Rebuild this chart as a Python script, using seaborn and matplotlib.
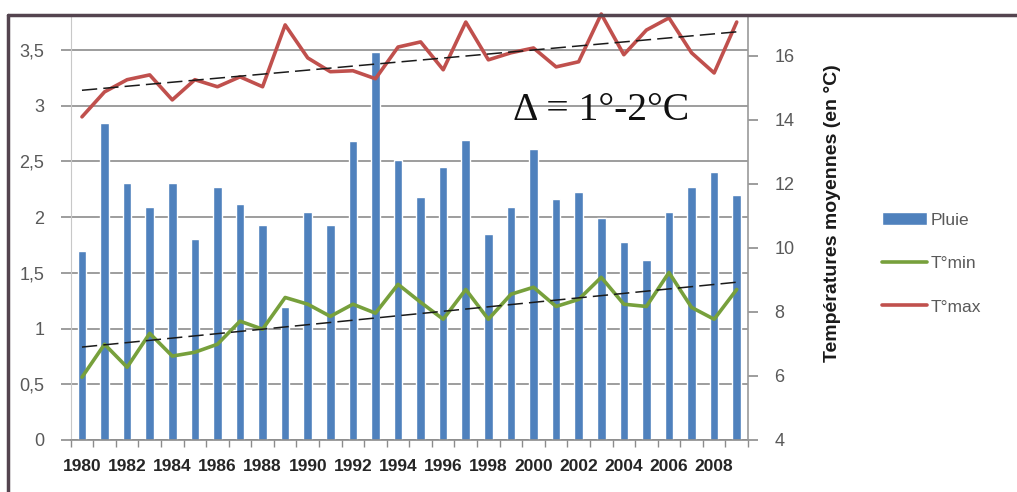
import numpy as np
import pandas as pd
import matplotlib
matplotlib.use('Agg')
import matplotlib.pyplot as plt
import seaborn as sns
from matplotlib.lines import Line2D
from matplotlib.ticker import FuncFormatter, MultipleLocator, FixedLocator

# données
years = list(range(1980, 2010))
pluie = [1.70, 2.85, 2.31, 2.09, 2.31, 1.80, 2.27, 2.12, 1.93, 1.19,
         2.05, 1.93, 2.68, 3.48, 2.51, 2.18, 2.45, 2.69, 1.85, 2.09,
         2.61, 2.16, 2.23, 1.99, 1.78, 1.62, 2.05, 2.27, 2.41, 2.20]
t_min = [5.96, 6.99, 6.27, 7.33, 6.62, 6.74, 6.99, 7.71, 7.46, 8.45,
         8.24, 7.86, 8.24, 7.96, 8.86, 8.30, 7.77, 8.70, 7.77, 8.55,
         8.77, 8.17, 8.39, 9.08, 8.24, 8.17, 9.23, 8.14, 7.77, 8.70]
t_max = [14.09, 14.87, 15.25, 15.40, 14.62, 15.25, 15.03, 15.34, 15.03, 16.96,
         15.93, 15.50, 15.53, 15.28, 16.27, 16.43, 15.56, 17.05, 15.87, 16.09,
         16.24, 15.65, 15.81, 17.30, 16.03, 16.80, 17.18, 16.09, 15.46, 17.05]
year_labels = [str(y) for y in years[::2]]

df = pd.DataFrame({'annee': years, 'pluie': pluie, 't_min': t_min, 't_max': t_max})
df['pos'] = np.arange(len(df))

sns.set_style('white')
plt.rcParams['font.family'] = ['Liberation Sans', 'DejaVu Sans']

blue = '#4F81BD'
green = '#77A03C'
red = '#C0504D'
grey_txt = '#595959'

fig = plt.figure(figsize=(10.17, 4.92), dpi=100)
ax = fig.add_axes([0.0695, 0.1057, 0.666, 0.8638])

sns.barplot(data=df, x='annee', y='pluie', color=blue, saturation=1,
            width=0.38, ax=ax, label='Pluie', zorder=2)
if ax.get_legend() is not None:
    ax.get_legend().remove()
ax.set_xlim(-0.5, len(years) - 0.5)
ax.set_ylim(0, 3.815)
ax.yaxis.set_major_locator(MultipleLocator(0.5))
ax.yaxis.set_major_formatter(FuncFormatter(lambda v, p: f'{v:g}'.replace('.', ',')))
ax.grid(axis='y', color='#8c8c8c', lw=1.2)
ax.set_axisbelow(True)
ax.set_xlabel(''); ax.set_ylabel('')

# x ticks: labels every 2 years, small marks between categories
ax.xaxis.set_major_locator(FixedLocator(df['pos'][::2].tolist()))
ax.set_xticklabels(year_labels)
ax.xaxis.set_minor_locator(FixedLocator(np.arange(-0.5, len(years), 1)))
ax.tick_params(axis='x', which='major', length=0, pad=14, labelsize=12.5,
               labelcolor='#262626')
for lab in ax.get_xticklabels():
    lab.set_fontweight('bold')
ax.tick_params(axis='x', which='minor', length=5, color='#8c8c8c', width=1,
               direction='out', bottom=True)
ax.tick_params(axis='y', length=7, color='#8c8c8c', width=1.2, direction='out',
               left=True, pad=12, labelsize=13, labelcolor=grey_txt)

for s in ['top', 'right']:
    ax.spines[s].set_visible(False)
ax.spines['left'].set_color('#c8c8c8')
ax.spines['bottom'].set_color('#8c8c8c')
ax.spines['bottom'].set_linewidth(1.2)

# températures sur l'axe de droite
ax2 = ax.twinx()
sns.lineplot(data=df, x='pos', y='t_min', color=green, lw=2.6, ax=ax2,
             label='T°min', legend=False)
sns.lineplot(data=df, x='pos', y='t_max', color=red, lw=2.6, ax=ax2,
             label='T°max', legend=False)
for col in ['t_min', 't_max']:
    sns.regplot(data=df, x='pos', y=col, scatter=False, ci=None, ax=ax2,
                line_kws=dict(color='#1a1a1a', lw=1.1, ls=(0, (10, 4))))
ax2.set_xlim(-0.5, len(years) - 0.5)
ax2.set_ylim(4, 17.27)
ax2.yaxis.set_major_locator(FixedLocator([4, 6, 8, 10, 12, 14, 16]))
ax2.set_xlabel('')
ax2.set_ylabel('Températures moyennes (en °C)', fontsize=14,
               fontweight='bold', color='#1a1a1a')
ax2.yaxis.set_label_coords(1.112, 0.535)
ax2.tick_params(axis='y', length=7, color='#8c8c8c', width=1.2, direction='out',
                right=True, pad=12, labelsize=13, labelcolor=grey_txt)
for s in ['top', 'left', 'bottom']:
    ax2.spines[s].set_visible(False)
ax2.spines['right'].set_color('#9a9a9a')
ax2.spines['right'].set_linewidth(1.2)
for line in ax2.lines:
    line.set_clip_on(False)

ax2.text(0.653, 0.775, 'Δ = 1°-2°C', transform=ax2.transAxes,
         family=['Liberation Serif', 'DejaVu Serif'], fontsize=28.5,
         ha='left', va='center', color='#111111')

# légende
h1, l1 = ax.get_legend_handles_labels()
h2 = [Line2D([], [], color=green, lw=2.6), Line2D([], [], color=red, lw=2.6)]
fig.legend(h1 + h2, l1 + ['T°min', 'T°max'], loc='center left',
           bbox_to_anchor=(0.852, 0.465), frameon=False, fontsize=12.5,
           handlelength=2.6, handleheight=0.8, handletextpad=0.2,
           labelspacing=1.6, labelcolor=grey_txt)

# cadre de l'image
fig.add_artist(Line2D([8 / 1017, 1], [1 - 15 / 492] * 2, transform=fig.transFigure,
                      color='#54444f', lw=2.5))
fig.add_artist(Line2D([8 / 1017] * 2, [0, 1 - 15 / 492], transform=fig.transFigure,
                      color='#54444f', lw=2.5))

fig.savefig('out.png', dpi=100)
